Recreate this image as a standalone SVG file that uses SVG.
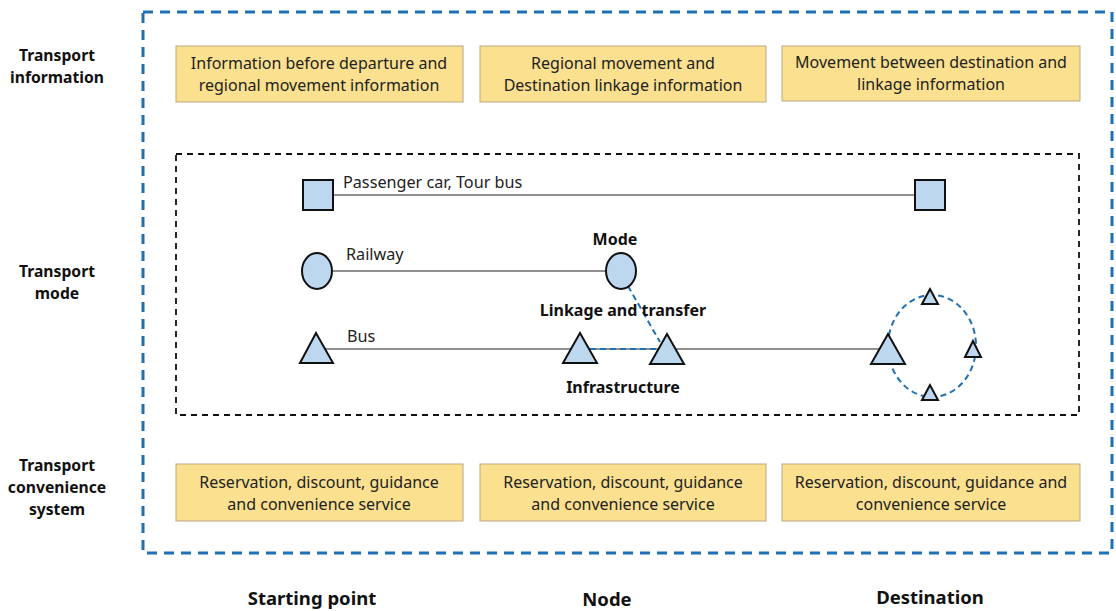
<svg xmlns="http://www.w3.org/2000/svg" width="1116" height="611" viewBox="0 0 1116 611">
<style>
.box{fill:#fbe08f;stroke:#b9a982;stroke-width:1}
.bt{font-family:"Noto Sans","Liberation Sans",sans-serif;font-size:16px;fill:#222;text-anchor:middle}
.lbl{font-family:"Noto Sans","Liberation Sans",sans-serif;font-size:15.7px;font-weight:bold;fill:#111;text-anchor:middle}
.ml{font-family:"Noto Sans","Liberation Sans",sans-serif;font-size:16px;font-weight:bold;fill:#111;text-anchor:middle}
.ax{font-family:"Noto Sans","Liberation Sans",sans-serif;font-size:18.5px;font-weight:bold;fill:#111;text-anchor:middle}
.lt{font-family:"Noto Sans","Liberation Sans",sans-serif;font-size:16.2px;fill:#222}
.sh{fill:#bdd7ee;stroke:#111;stroke-width:2}
.ln{stroke:#222;stroke-width:1.2;fill:none}
.bd{stroke:#1f6fb4;stroke-width:2;stroke-dasharray:6 4;fill:none}
</style>
<rect x="143" y="12" width="969" height="541" fill="none" stroke="#1f6fb4" stroke-width="3" stroke-dasharray="10 7"/>
<rect x="176" y="154" width="903" height="261" fill="none" stroke="#111" stroke-width="1.8" stroke-dasharray="6 5"/>
<g id="row-labels">
<text class="lbl" x="57" y="61">Transport</text><text class="lbl" x="57" y="83">information</text>
<text class="lbl" x="57" y="277">Transport</text><text class="lbl" x="57" y="299">mode</text>
<text class="lbl" x="57" y="471">Transport</text><text class="lbl" x="57" y="493">convenience</text><text class="lbl" x="57" y="515">system</text>
</g>
<g id="col-labels">
<text class="ax" x="312" y="605">Starting point</text>
<text class="ax" x="607" y="606">Node</text>
<text class="ax" x="930" y="604">Destination</text>
</g>
<g id="info1"><rect class="box" x="176" y="46" width="287" height="56"/><text class="bt" x="319" y="69">Information before departure and</text><text class="bt" x="319" y="91">regional movement information</text></g>
<g id="info2"><rect class="box" x="480" y="46" width="286" height="56"/><text class="bt" x="623" y="69">Regional movement and</text><text class="bt" x="623" y="91">Destination linkage information</text></g>
<g id="info3"><rect class="box" x="782" y="46" width="298" height="55"/><text class="bt" x="931" y="68">Movement between destination and</text><text class="bt" x="931" y="90">linkage information</text></g>
<g id="conv1"><rect class="box" x="176" y="464" width="287" height="57"/><text class="bt" x="319" y="488">Reservation, discount, guidance</text><text class="bt" x="319" y="510">and convenience service</text></g>
<g id="conv2"><rect class="box" x="480" y="464" width="286" height="57"/><text class="bt" x="623" y="488">Reservation, discount, guidance</text><text class="bt" x="623" y="510">and convenience service</text></g>
<g id="conv3"><rect class="box" x="782" y="464" width="298" height="57"/><text class="bt" x="931" y="488">Reservation, discount, guidance and</text><text class="bt" x="931" y="510">convenience service</text></g>
<g id="connectors">
<line class="ln" x1="333" y1="195" x2="915" y2="195"/>
<line class="ln" x1="332" y1="271" x2="606" y2="271"/>
<line class="ln" x1="325" y1="349" x2="880" y2="349"/>
<line class="bd" x1="590" y1="349" x2="660" y2="349"/>
<line class="bd" x1="628" y1="286" x2="660" y2="342"/>
<ellipse class="bd" cx="932" cy="346" rx="44" ry="51"/>
</g>
<g id="car-start"><rect class="sh" x="303" y="180" width="30" height="30"/></g>
<g id="car-dest"><rect class="sh" x="915" y="180" width="30" height="30"/></g>
<g id="rail-start"><ellipse class="sh" cx="317" cy="271" rx="15" ry="18"/></g>
<g id="rail-node"><ellipse class="sh" cx="621" cy="271" rx="15" ry="18"/></g>
<g id="bus-start"><polygon class="sh" points="316,333 300,363 333,363"/></g>
<g id="bus-node1"><polygon class="sh" points="580,333 563,363 597,363"/></g>
<g id="bus-node2"><polygon class="sh" points="667,334 650,364 684,364"/></g>
<g id="bus-dest"><polygon class="sh" points="888,334 871,364 905,364"/></g>
<g id="dest-t1"><polygon class="sh" points="930,289 922,304 938,304"/></g>
<g id="dest-t2"><polygon class="sh" points="973,341 965,357 981,357"/></g>
<g id="dest-t3"><polygon class="sh" points="930,385 922,400 938,400"/></g>
<g id="texts">
<text class="lt" x="343" y="188">Passenger car, Tour bus</text>
<text class="lt" x="346" y="260">Railway</text>
<text class="lt" x="347" y="342">Bus</text>
<text class="ml" x="615" y="245">Mode</text>
<text class="ml" x="623" y="316">Linkage and transfer</text>
<text class="ml" x="623" y="393">Infrastructure</text>
</g>
</svg>
